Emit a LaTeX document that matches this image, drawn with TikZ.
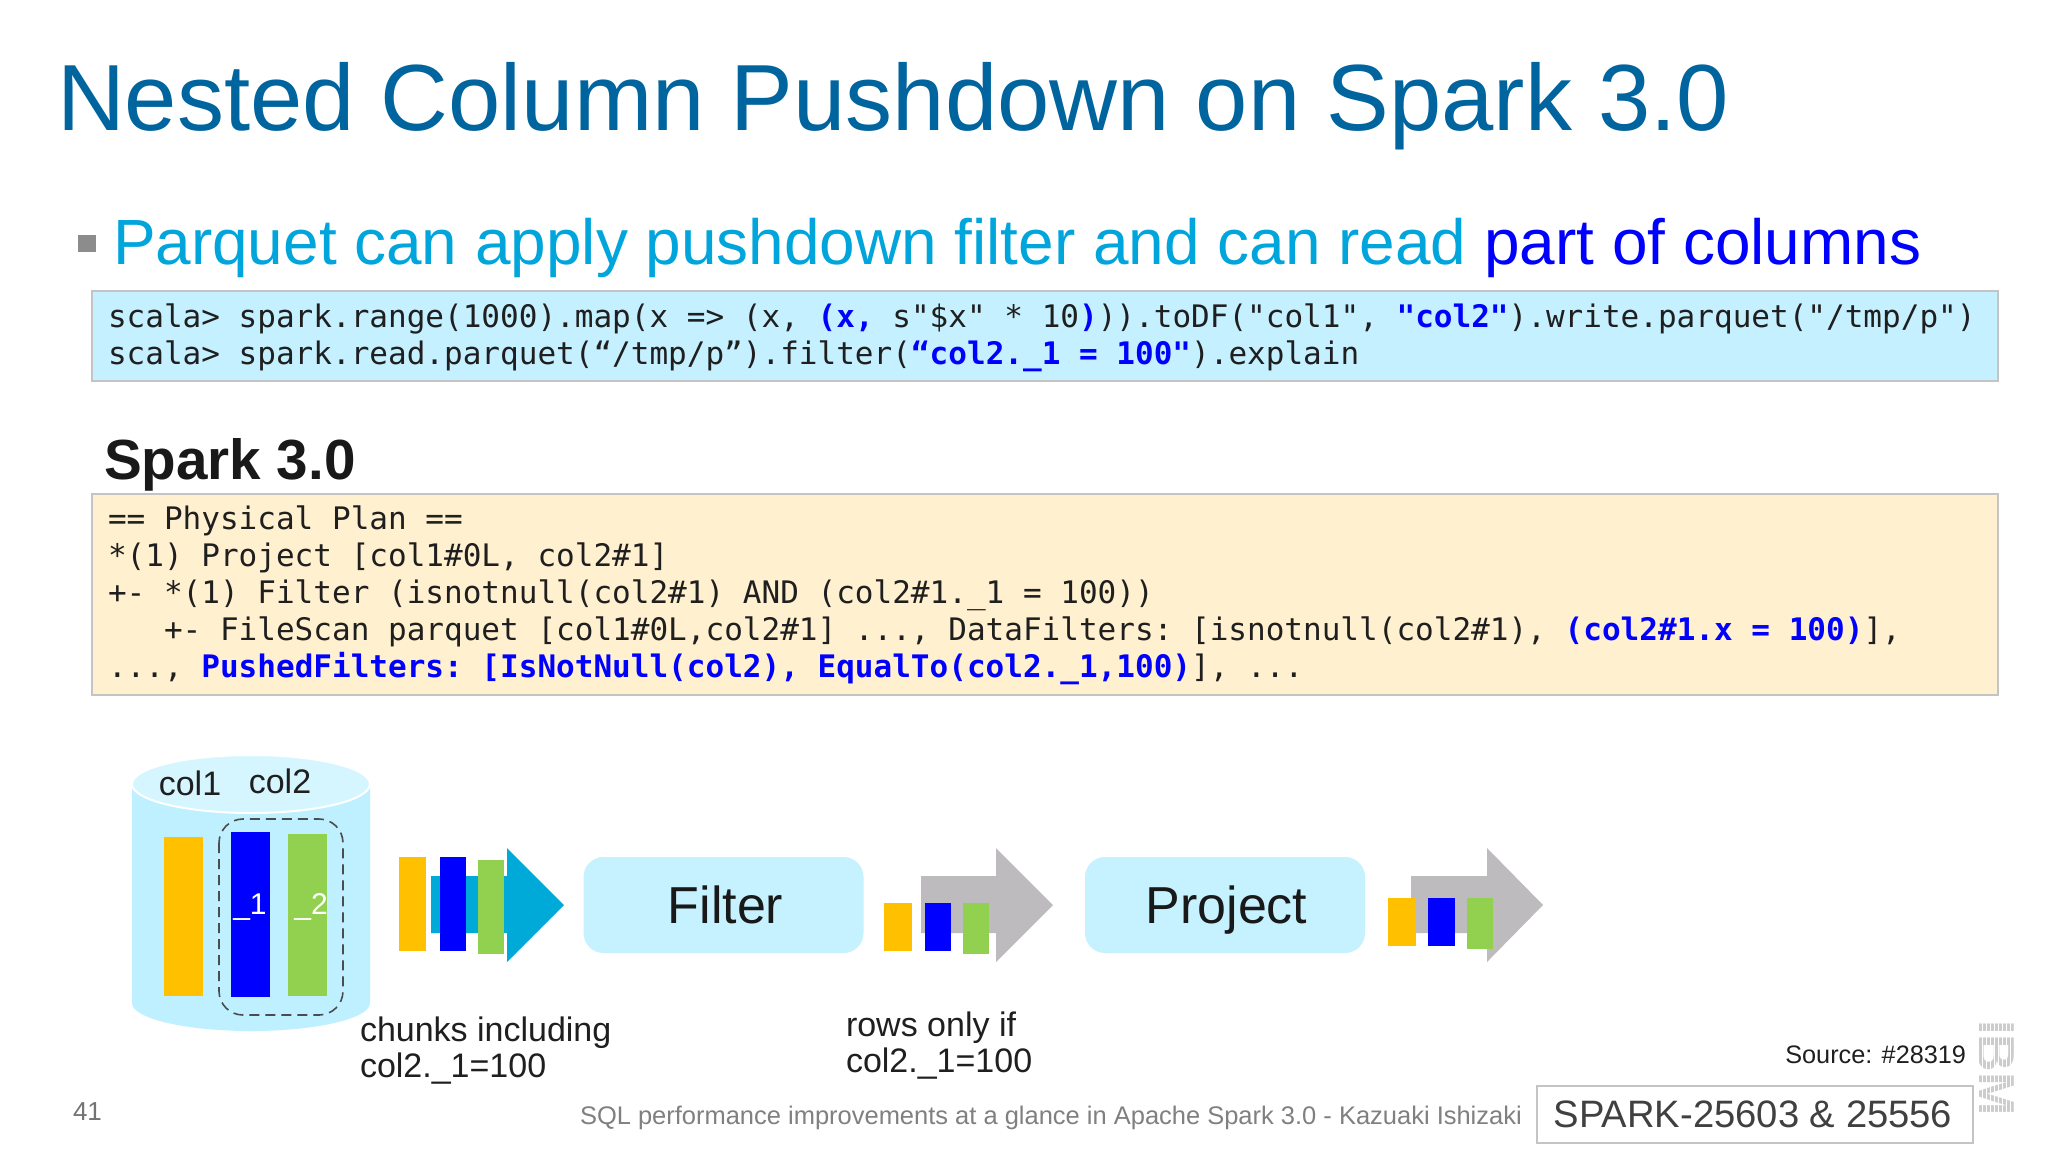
\documentclass[tikz,border=0pt]{standalone}
\usepackage{fontspec}
\setmainfont{Liberation Sans}
\newfontfamily\code{DejaVu Sans Mono}
\newcommand{\fs}[1]{\fontsize{#1}{#1}\selectfont}
\definecolor{titleblue}{HTML}{00649E}
\definecolor{skyc}{HTML}{00A5DC}
\definecolor{pureb}{HTML}{0000FF}
\definecolor{codeblue}{HTML}{C5F0FF}
\definecolor{codecream}{HTML}{FFF0CF}
\definecolor{rule}{HTML}{C4C4C4}
\definecolor{chorange}{HTML}{FFC000}
\definecolor{chgreen}{HTML}{92D050}
\definecolor{arrowblue}{HTML}{00AAD8}
\definecolor{arrowgray}{HTML}{BDBBBD}
\definecolor{cylbody}{HTML}{BEF0FF}
\definecolor{cyltop}{HTML}{D6F6FF}
\definecolor{opbox}{HTML}{C6F2FF}
\tikzset{
  txt/.style={inner sep=0pt,outer sep=0pt,anchor=base west},
  codeline/.style={txt,font=\code\fs{15.51}\frenchspacing,text=black!88},
  codebox/.style={draw=rule,line width=1pt},
  opnode/.style={fill=opbox,rounded corners=10pt,inner sep=0pt,font=\fs{26},text=black!90,text height=18.6pt,text depth=0pt,minimum width=140pt,minimum height=48pt},
  label/.style={txt,font=\fs{17},text=black!88,align=left},
}
\newcommand{\hl}[1]{\textcolor{pureb}{\bfseries #1}}
\begin{document}
\begin{tikzpicture}[x=0.5pt,y=-0.5pt]
\useasboundingbox (0,0) rectangle (2048,1152);
\fill[white] (0,0) rectangle (2048,1152);
% title
\node[txt,font=\fs{47},text=titleblue] (title) at (57,130) {Nested Column Pushdown on Spark 3.0};
% bullet
\fill[gray!90] (78,235) rectangle (96,252);
\node[txt,font=\fs{31.95},text=skyc] (bullet) at (113,264) {Parquet can apply pushdown filter and can read \textcolor{pureb}{part of columns}};
% code box 1
\draw[codebox,fill=codeblue] (92,291) rectangle (1998,381);
\node[codeline] (c1) at (108,327) {scala> spark.range(1000).map(x => (x, \hl{(x,} s"\$x" * 10\hl{)})).toDF("col1", \hl{"col2"}).write.parquet("/tmp/p")};
\node[codeline] (c2) at (108,364) {scala> spark.read.parquet(“/tmp/p”).filter(\hl{“col2.\_1 = 100"}).explain};
% heading
\node[txt,font=\bfseries\fs{28.3},text=black!90] (spark) at (104,479) {Spark 3.0};
% code box 2
\draw[codebox,fill=codecream] (92,494) rectangle (1998,695);
\node[codeline] (p1) at (108,529) {== Physical Plan ==};
\node[codeline] (p2) at (108,566) {*(1) Project [col1\#0L, col2\#1]};
\node[codeline] (p3) at (108,603) {+- *(1) Filter (isnotnull(col2\#1) AND (col2\#1.\_1 = 100))};
\node[codeline] (p4) at (108,640) {\ \ \ +- FileScan parquet [col1\#0L,col2\#1] ..., DataFilters: [isnotnull(col2\#1), \hl{(col2\#1.x = 100)}],};
\node[codeline] (p5) at (108,677) {..., \hl{PushedFilters: [IsNotNull(col2), EqualTo(col2.\_1,100)}], ...};
% cylinder
\fill[cylbody] (132,784) -- (132,1003) arc[start angle=180,end angle=360,x radius=119,y radius=-28] -- (370,784) -- cycle;
\draw[white,line width=1pt,fill=cyltop] (251,784) ellipse[x radius=119,y radius=-29];
\node[txt,anchor=center,font=\fs{17},text=black!88] (col1) at (190,783) {col1};
\node[txt,anchor=center,font=\fs{17},text=black!88] (col2) at (280,781) {col2};
\fill[chorange] (164,837) rectangle (203,996);
\fill[pureb] (231,832) rectangle (270,997);
\fill[chgreen] (288,834) rectangle (327,996);
\node[txt,anchor=center,font=\fs{15},text=white] (sub1) at (250,907) {\_1};
\node[txt,anchor=center,font=\fs{15},text=white] (sub2) at (311,907) {\_2};
\draw[black!70,line width=0.8pt,rounded corners=12pt,dash pattern=on 5pt off 3pt] (219,819) rectangle (343,1015);
% arrow 1
\fill[arrowblue] (431,876) -- (507,876) -- (507,848) -- (564,905) -- (507,962) -- (507,933) -- (431,933) -- cycle;
\fill[chorange] (399,857) rectangle (426,951);
\fill[pureb] (440,857) rectangle (466,951);
\fill[chgreen] (478,860) rectangle (504,954);
% filter
\node[opnode,text width=140pt,align=center,xshift=0pt] (filter) at (723.5,905) {\hspace*{2pt}Filter};
% arrow 2
\fill[arrowgray] (921,876) -- (996,876) -- (996,848) -- (1053,905) -- (996,962) -- (996,933) -- (921,933) -- cycle;
\fill[chorange] (884,903) rectangle (912,951);
\fill[pureb] (925,903) rectangle (951,951);
\fill[chgreen] (963,903) rectangle (989,954);
% project
\node[opnode,text width=140pt,align=center] (project) at (1225,905) {\hspace*{1.5pt}Project};
% arrow 3
\fill[arrowgray] (1411,876) -- (1487,876) -- (1487,848) -- (1543,905) -- (1487,962) -- (1487,933) -- (1411,933) -- cycle;
\fill[chorange] (1388,898) rectangle (1416,946);
\fill[pureb] (1428,898) rectangle (1455,946);
\fill[chgreen] (1467,898) rectangle (1493,949);
% labels
\node[label] (chunks) at (360,1041) {chunks including};
\node[label] (chunksb) at (360,1077) {col2.\_1=100};
\node[label] (rows) at (846,1036) {rows only if};
\node[label] (rowsb) at (846,1072) {col2.\_1=100};
% footer
\node[txt,font=\fs{13},text=black!55] (num) at (73,1120) {41};
\node[txt,font=\fs{12.74},text=black!50] (foot) at (580,1124) {SQL performance improvements at a glance in Apache Spark 3.0 - Kazuaki Ishizaki};
\node[txt,anchor=base east,font=\fs{12.63},text=black!88] (src) at (1966,1063) {Source: \#28319};
\draw[rule,line width=0.8pt] (1537,1086) rectangle (1973,1143);
\node[txt,anchor=center,font=\fs{19.1},text=black!75] (spk) at (1753,1114) {SPARK-25603 \& 25556};
\node[txt,anchor=center,rotate=-90,font=\bfseries\fs{26},text=black!20] (ibm) at (1996,1068) {IBM};
\foreach \x in {1978,1982,...,2014} {\draw[white,line width=0.5pt] (\x,1018) -- (\x,1120);}
\end{tikzpicture}
\end{document}
